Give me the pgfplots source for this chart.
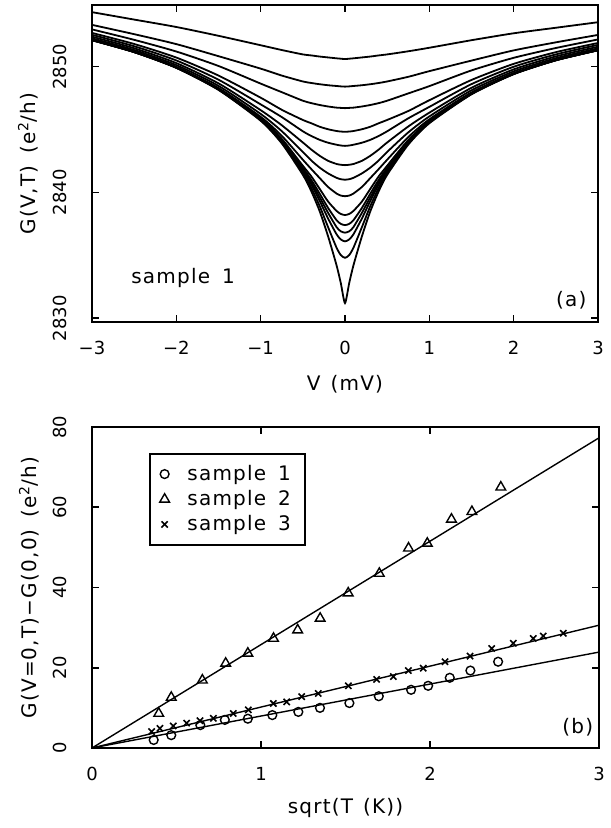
\documentclass[border=0pt]{standalone}
\usepackage{fontspec}
\setmainfont{DejaVu Sans}
\newfontfamily\lblfont{DejaVu Sans}[LetterSpace=6]
\usepackage{pgfplots}
\usepackage{pgfplotstable}
\pgfplotsset{compat=1.18}

\pgfplotstableread{
V c1 c2 c3 c4 c5 c6 c7 c8 c9 c10 c11 c12 c13 c14
-3 2854.33 2853.32 2852.96 2852.68 2852.53 2852.38 2852.25 2852.13 2852.12 2852.11 2852.11 2852.11 2852.10 2852.10
-2.5 2853.74 2852.58 2852.13 2851.80 2851.62 2851.46 2851.32 2851.19 2851.18 2851.17 2851.16 2851.16 2851.16 2851.15
-2 2853.15 2851.79 2851.20 2850.72 2850.49 2850.28 2850.12 2849.98 2849.94 2849.93 2849.93 2849.92 2849.91 2849.90
-1.5 2852.45 2850.83 2850.05 2849.29 2848.96 2848.67 2848.47 2848.30 2848.24 2848.21 2848.20 2848.19 2848.17 2848.15
-1 2851.70 2849.84 2848.65 2847.53 2847.00 2846.54 2846.24 2846.01 2845.88 2845.84 2845.80 2845.78 2845.74 2845.70
-0.75 2851.32 2849.29 2847.97 2846.57 2845.99 2845.34 2844.87 2844.50 2844.26 2844.17 2844.11 2844.05 2843.97 2843.90
-0.5 2850.97 2848.82 2847.29 2845.76 2844.86 2843.97 2843.22 2842.60 2842.12 2841.95 2841.82 2841.71 2841.55 2841.40
-0.4 2850.89 2848.70 2847.10 2845.50 2844.49 2843.41 2842.54 2841.86 2841.28 2841.00 2840.80 2840.62 2840.35 2840.10
-0.3 2850.80 2848.60 2846.95 2845.22 2844.18 2842.91 2841.97 2841.14 2840.28 2839.90 2839.61 2839.32 2838.91 2838.50
-0.2 2850.73 2848.52 2846.83 2845.02 2843.95 2842.51 2841.51 2840.43 2839.27 2838.76 2838.37 2837.92 2837.23 2836.50
-0.1 2850.66 2848.46 2846.74 2844.88 2843.79 2842.26 2841.16 2839.91 2838.53 2837.79 2837.24 2836.67 2835.60 2834.20
-0.05 2850.63 2848.43 2846.72 2844.84 2843.73 2842.20 2841.05 2839.75 2838.29 2837.50 2836.91 2836.26 2835.02 2832.80
0 2850.60 2848.41 2846.70 2844.82 2843.70 2842.17 2841.01 2839.70 2838.20 2837.40 2836.80 2836.11 2834.80 2831.20
0.05 2850.63 2848.43 2846.72 2844.84 2843.73 2842.20 2841.05 2839.75 2838.29 2837.50 2836.91 2836.26 2835.02 2832.80
0.1 2850.66 2848.46 2846.74 2844.88 2843.79 2842.26 2841.16 2839.91 2838.53 2837.79 2837.24 2836.67 2835.60 2834.20
0.2 2850.73 2848.52 2846.83 2845.02 2843.95 2842.51 2841.51 2840.43 2839.27 2838.76 2838.37 2837.92 2837.23 2836.50
0.3 2850.80 2848.60 2846.95 2845.22 2844.18 2842.91 2841.97 2841.14 2840.28 2839.90 2839.61 2839.32 2838.91 2838.50
0.4 2850.89 2848.70 2847.10 2845.50 2844.49 2843.41 2842.54 2841.86 2841.28 2841.00 2840.80 2840.62 2840.35 2840.10
0.5 2850.97 2848.82 2847.29 2845.76 2844.86 2843.97 2843.22 2842.60 2842.12 2841.95 2841.82 2841.71 2841.55 2841.40
0.75 2851.22 2849.19 2847.87 2846.47 2845.89 2845.24 2844.77 2844.40 2844.16 2844.07 2844.01 2843.95 2843.87 2843.80
1 2851.50 2849.64 2848.45 2847.33 2846.80 2846.34 2846.04 2845.81 2845.68 2845.64 2845.60 2845.58 2845.54 2845.50
1.5 2852.10 2850.48 2849.70 2848.94 2848.61 2848.32 2848.12 2847.95 2847.89 2847.86 2847.85 2847.84 2847.82 2847.80
2 2852.65 2851.29 2850.70 2850.22 2849.99 2849.78 2849.62 2849.48 2849.44 2849.43 2849.43 2849.42 2849.41 2849.40
2.5 2853.09 2851.93 2851.48 2851.15 2850.97 2850.81 2850.67 2850.54 2850.53 2850.52 2850.51 2850.51 2850.51 2850.50
3 2853.53 2852.52 2852.16 2851.88 2851.73 2851.58 2851.45 2851.33 2851.32 2851.31 2851.31 2851.31 2851.30 2851.30
}\dataA

\pgfplotstableread{
x y
0.365 2.0
0.469 3.2
0.641 5.7
0.786 7.0
0.922 7.3
1.067 8.2
1.221 9.0
1.349 10.0
1.523 11.2
1.697 12.9
1.888 14.5
1.989 15.5
2.117 17.5
2.239 19.3
2.403 21.5
}\sampleone

\pgfplotstableread{
x y
0.395 8.6
0.469 12.6
0.653 16.9
0.791 21.1
0.922 23.6
1.074 27.3
1.217 29.4
1.350 32.3
1.516 38.6
1.700 43.5
1.873 49.8
1.984 51.0
2.127 57.0
2.248 58.9
2.419 65.0
}\sampletwo

\pgfplotstableread{
x y
0.353 4.1
0.402 4.9
0.481 5.5
0.560 6.2
0.639 6.8
0.718 7.4
0.836 8.6
0.925 9.5
1.073 11.1
1.152 11.5
1.241 12.8
1.339 13.6
1.517 15.5
1.684 17.1
1.783 17.8
1.872 19.3
1.960 19.9
2.089 21.5
2.237 22.9
2.365 24.8
2.493 26.1
2.611 27.3
2.670 27.9
2.789 28.6
}\samplethree

\pgfplotsset{
  myaxis/.style={
    scale only axis,
    axis line style={line width=1pt},
    tick style={line width=0.8pt, black},
    tick align=inside,
    major tick length=3.5pt,
    tick label style={font=\fontsize{9}{10}\selectfont},
    xticklabel shift=6pt,
    yticklabel style={rotate=90, anchor=south},
    yticklabel shift=9pt,
    label style={font=\lblfont\fontsize{10}{12}\selectfont},
    /pgf/number format/assume math mode=true,
  }
}

\begin{document}
\begin{tikzpicture}
\path[use as bounding box] (0,0) rectangle (305pt,414pt);

\begin{axis}[myaxis,
  at={(46pt,253pt)}, anchor=south west,
  width=253pt, height=158.5pt,
  xmin=-3, xmax=3, ymin=2829.7, ymax=2854.9,
  xtick={-3,-2,-1,0,1,2,3},
  xticklabels={−3,−2,−1,0,1,2,3},
  ytick={2830,2840,2850},
  yticklabels={2830,2840,2850},
  xlabel={V\hspace{0.5em}(mV)},
  ylabel={G(V,T)\hspace{0.6em}(e\textsuperscript{2}/h)},
  xlabel style={at={(axis description cs:0.5,-0.196)}, anchor=center},
  ylabel style={at={(axis description cs:-0.126,0.5)}, anchor=center},
]
\pgfplotsinvokeforeach{1,...,14}{
  \addplot[black, line width=0.9pt, smooth, tension=0.4] table[x=V, y=c#1] {\dataA};
}
\node[font=\lblfont\fontsize{10}{12}\selectfont] at (rel axis cs:0.18,0.139) {sample\hspace{0.6em}1};
\node[font=\lblfont\fontsize{10}{12}\selectfont] at (rel axis cs:0.947,0.07) {(a)};
\end{axis}

\begin{axis}[myaxis,
  at={(46pt,40pt)}, anchor=south west,
  width=253.5pt, height=160.5pt,
  xmin=0, xmax=3, ymin=0, ymax=80,
  xtick={0,1,2,3},
  xticklabels={0,1,2,3},
  ytick={0,20,40,60,80},
  yticklabels={0,20,40,60,80},
  xlabel={sqrt(T\hspace{0.5em}(K))},
  ylabel={G(V=0,T)−G(0,0)\hspace{0.6em}(e\textsuperscript{2}/h)},
  xlabel style={at={(axis description cs:0.5,-0.187)}, anchor=center},
  ylabel style={at={(axis description cs:-0.124,0.5)}, anchor=center},
  legend style={at={(rel axis cs:0.112,0.919)}, anchor=north west,
    draw=black, line width=1pt, font=\lblfont\fontsize{10}{12}\selectfont,
    row sep=-0.5pt, inner xsep=5pt, inner ysep=3.5pt},
  legend cell align=left,
]
\addplot[only marks, mark=o, mark size=2.2pt, black, line width=0.7pt] table[x=x,y=y] {\sampleone};
\addlegendentry{\hspace{0.7em}sample\hspace{0.6em}1}
\addplot[only marks, mark=triangle, mark size=2.8pt, black, line width=0.7pt] table[x=x,y=y] {\sampletwo};
\addlegendentry{\hspace{0.7em}sample\hspace{0.6em}2}
\addplot[only marks, mark=x, mark size=2.2pt, black, line width=0.8pt] table[x=x,y=y] {\samplethree};
\addlegendentry{\hspace{0.7em}sample\hspace{0.6em}3}
\addplot[black, line width=0.7pt, forget plot] coordinates {(0,0) (3,77.3)};
\addplot[black, line width=0.7pt, forget plot] coordinates {(0,0) (3,30.6)};
\addplot[black, line width=0.7pt, forget plot] coordinates {(0,0) (3,23.9)};
\node[font=\lblfont\fontsize{10}{12}\selectfont] at (rel axis cs:0.958,0.065) {(b)};
\end{axis}
\end{tikzpicture}
\end{document}
